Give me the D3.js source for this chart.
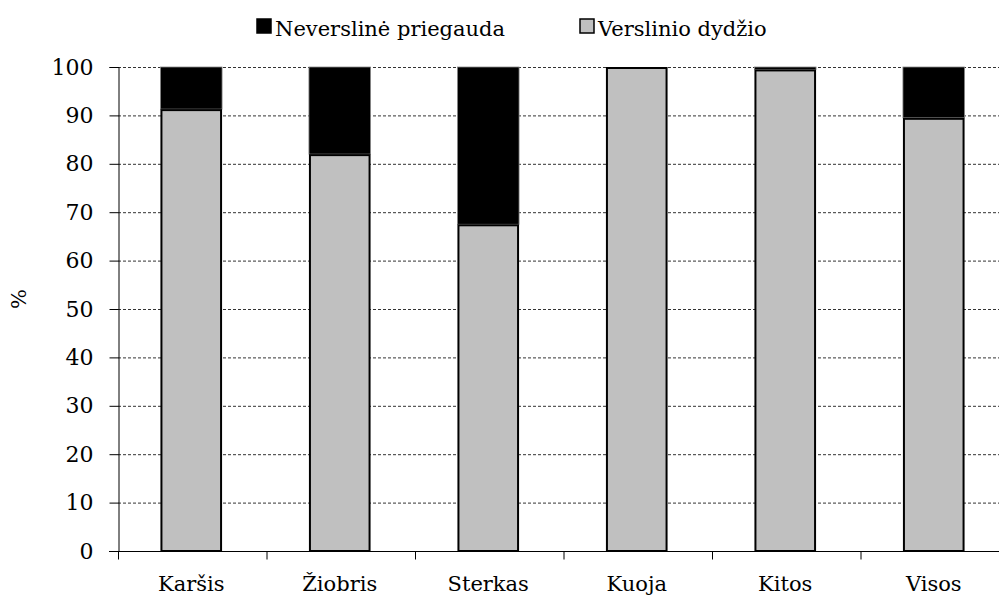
<!DOCTYPE html>
<html><head><meta charset="utf-8">
<script src="https://cdn.jsdelivr.net/npm/d3@7"></script>
<style>body{margin:0;background:#fff}svg{display:block}</style>
</head><body><svg id="c" width="999" height="597"></svg>
<script>
const categories = ["Karšis","Žiobris","Sterkas","Kuoja","Kitos","Visos"];
const commercial = [91.3, 82.0, 67.5, 100, 99.5, 89.5];
const nonCommercial = [8.7, 18.0, 32.5, 0, 0.5, 10.5];
const yTicks = [0,10,20,30,40,50,60,70,80,90,100];
const seriesNames = ["Neverslinė priegauda","Verslinio dydžio"];
const FONT = "'DejaVu Serif', serif";

const svg = d3.select("#c").style("font-family", FONT);
const m = {left:118, top:67, bottom:46};
const W = 999, H = 597;
const step = 148.5;
const x = d3.scaleBand().domain(categories).range([m.left - 1, m.left - 1 + step*categories.length]).paddingInner(0.585).paddingOuter(0.2925);
const y = d3.scaleLinear().domain([0,100]).range([H - m.bottom, m.top]);

svg.append("g").selectAll("line").data(yTicks.filter(d=>d>0)).join("line")
  .attr("x1", m.left).attr("x2", W)
  .attr("y1", d=>y(d)+0.5).attr("y2", d=>y(d)+0.5)
  .attr("stroke","#333").attr("stroke-width",1).attr("stroke-dasharray","3,2");

svg.append("g").selectAll("rect").data(categories).join("rect")
  .attr("x", d=>x(d)).attr("width", x.bandwidth())
  .attr("y", (d,i)=>y(commercial[i]+nonCommercial[i])).attr("height", (d,i)=>Math.max(0,y(commercial[i])-y(commercial[i]+nonCommercial[i])))
  .attr("fill","#000").attr("stroke","#888").attr("stroke-width",0.8);
svg.append("g").selectAll("rect").data(categories).join("rect")
  .attr("x", d=>x(d)+1).attr("width", x.bandwidth()-2)
  .attr("y", (d,i)=>y(commercial[i])+1).attr("height", (d,i)=>y(0)-y(commercial[i])-1)
  .attr("fill","#c0c0c0").attr("stroke","#000").attr("stroke-width",2);

const ya = svg.append("g").attr("transform",`translate(${m.left+0.5},0)`)
  .call(d3.axisLeft(y).tickValues(yTicks).tickSize(9).tickPadding(16).tickFormat(d3.format("d")));
ya.attr("font-family", FONT);
ya.select(".domain").attr("stroke","#000");
ya.selectAll(".tick line").attr("stroke","#000");
ya.selectAll("text").attr("font-size",22).attr("fill","#000").attr("font-family", FONT);

const xa = svg.append("g").attr("transform",`translate(0,${y(0)+0.5})`);
xa.append("line").attr("x1", m.left - 9).attr("x2", W).attr("stroke","#000");
const bounds = d3.range(categories.length).map(i=> m.left + i*x.step());
xa.selectAll(".tk").data(bounds).join("line").attr("class","tk")
  .attr("x1", d=>d+0.5).attr("x2", d=>d+0.5).attr("y1",0).attr("y2",8).attr("stroke","#000");
xa.selectAll("text").data(categories).join("text")
  .attr("x", d=>x(d)+x.bandwidth()/2).attr("y", 39)
  .attr("text-anchor","middle").attr("font-size",21).attr("fill","#000").attr("font-family", FONT).text(d=>d);

svg.append("text").attr("transform",`translate(20,299) rotate(-90)`)
  .attr("text-anchor","middle").attr("dominant-baseline","middle").attr("font-size",21).attr("font-family", FONT).text("%");

const leg = [{name:seriesNames[0], fill:"#000", x:256},{name:seriesNames[1], fill:"#c0c0c0", x:579}];
const lg = svg.append("g").selectAll("g").data(leg).join("g").attr("transform", d=>`translate(${d.x},0)`);
lg.append("rect").attr("x",1).attr("y",19).attr("width",14).attr("height",14)
  .attr("fill",d=>d.fill).attr("stroke","#000").attr("stroke-width",1.5);
lg.append("text").attr("x",19).attr("y",36).attr("font-size",21).attr("font-family", FONT).text(d=>d.name);
</script></body></html>
